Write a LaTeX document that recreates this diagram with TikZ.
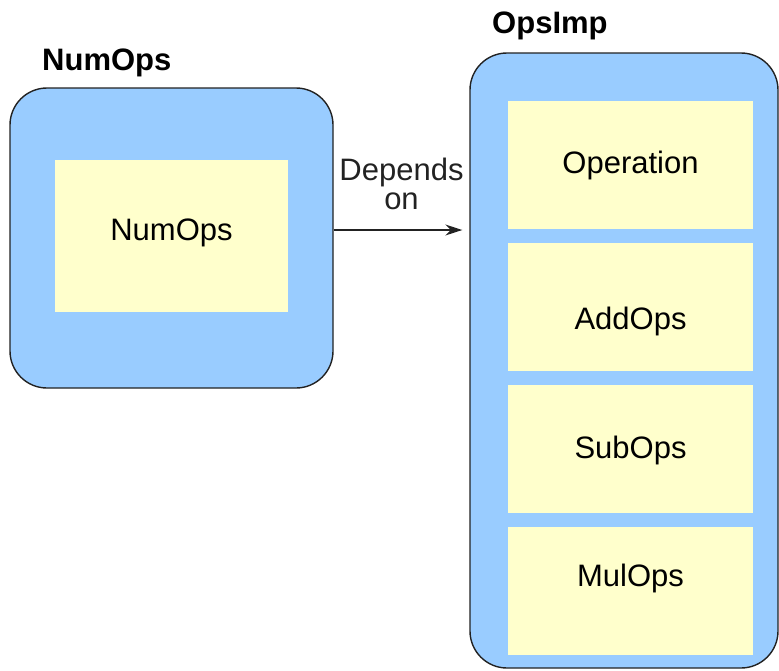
\documentclass[tikz,border=0pt]{standalone}
\usepackage{fontspec}
\setmainfont{Liberation Sans}
\usetikzlibrary{arrows.meta}
\definecolor{pkgblue}{HTML}{99CCFF}
\definecolor{clsyellow}{HTML}{FFFFCC}
\definecolor{edge}{HTML}{222222}
\begin{document}
\begin{tikzpicture}[x=1pt,y=-1pt,
  font=\fontsize{31}{29}\selectfont,
  pkg/.style={draw=edge,line width=1.4pt,fill=pkgblue,rounded corners=37pt,inner sep=0pt},
  cls/.style={fill=clsyellow,inner sep=0pt,minimum width=245pt,minimum height=128pt},
  title/.style={anchor=base west,inner sep=0pt,font=\fontsize{31}{29}\selectfont\bfseries}]
\useasboundingbox (0,0) rectangle (779,670);
% left package
\node[pkg,minimum width=323pt,minimum height=300pt] (numouter) at (171.5,238) {};
\node[fill=clsyellow,inner sep=0pt,minimum width=233pt,minimum height=152pt,
  label={[yshift=3pt]center:NumOps}] (numcls) at (171.5,236) {};
\node[title] (numtitle) at (42,70) {NumOps};
% right package
\node[pkg,minimum width=308pt,minimum height=615pt] (opsouter) at (624,360.5) {};
\node[cls,label={[yshift=-1pt]center:Operation}] (oper) at (630.5,164.5) {};
\node[cls,label={[yshift=-14pt]center:AddOps}] (add) at (630.5,307) {};
\node[cls,label={[yshift=-2pt]center:SubOps}] (sub) at (630.5,448.5) {};
\node[cls,label={[yshift=13pt]center:MulOps}] (mul) at (630.5,591) {};
\node[title] (opstitle) at (492,33) {OpsImp};
% dependency
\draw[edge,line width=1.3pt,-{Stealth[length=17pt,width=11pt]},shorten >=7pt]
  ([yshift=8pt]numouter.east) -- ([yshift=8pt]numouter.east -| opsouter.west)
  node[midway,above=20pt,align=center,inner sep=0pt] (dep) {Depends\\on};
\end{tikzpicture}
\end{document}
